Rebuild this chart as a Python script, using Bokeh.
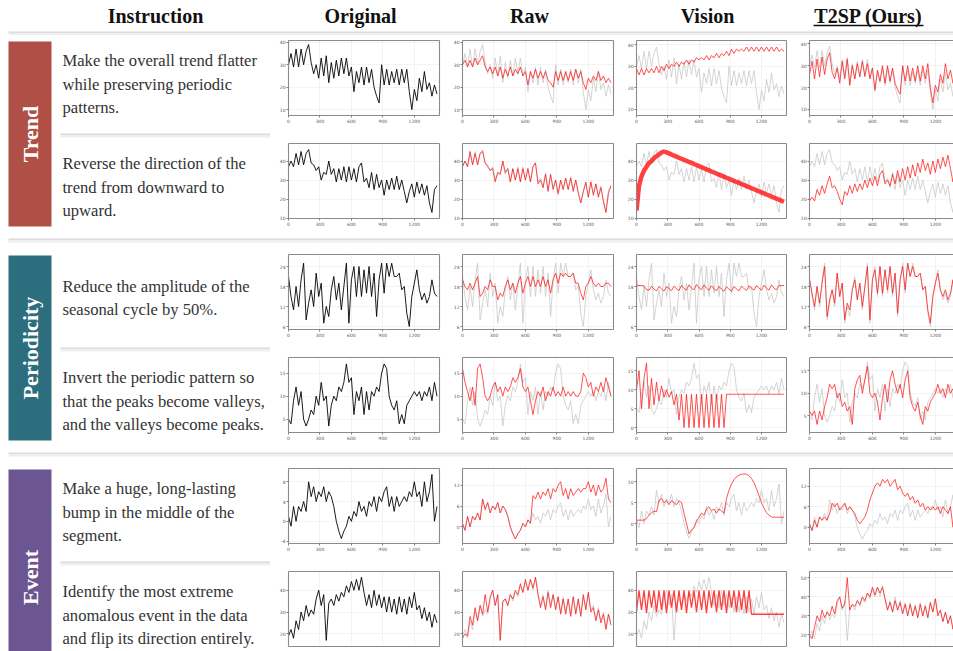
import numpy as np
from bokeh.plotting import figure
from bokeh.layouts import column, row
from bokeh.models import Range1d, FixedTicker, LinearAxis, Grid, NumeralTickFormatter
from bokeh.embed import file_html
from bokeh.resources import INLINE
from bokeh.core.properties import value

# ---------------- data ----------------
T = list(range(0, 1440, 24))          # time step of each sample
X_TICKS = [0, 300, 600, 900, 1200]

HEADERS = ["Instruction", "Original", "Raw", "Vision", "T2SP (Ours)"]
CATEGORIES = ["Trend", "Periodicity", "Event"]
CAT_COLORS = ["#AF4F45", "#2D6E7E", "#6B5692"]
INSTRUCTIONS = [
    ["Make the overall trend flatter", "while preserving periodic", "patterns."],
    ["Reverse the direction of the", "trend from downward to", "upward."],
    ["Reduce the amplitude of the", "seasonal cycle by 50%."],
    ["Invert the periodic pattern so", "that the peaks become valleys,", "and the valleys become peaks."],
    ["Make a huge, long-lasting", "bump in the middle of the", "segment."],
    ["Identify the most extreme", "anomalous event in the data", "and flip its direction entirely."],
]

# row 1: flatten trend
orig_1 = [30, 35, 29, 37, 29, 37, 30, 36, 39, 31,
          26, 30, 24, 33, 25, 34, 22, 31, 24, 32,
          25, 33, 26, 33, 25, 29, 18, 27, 22, 29,
          21, 29, 22, 28, 20, 16, 13, 30, 21, 28,
          21, 27, 22, 28, 21, 28, 22, 28, 18, 10,
          19, 14, 24, 18, 27, 19, 22, 16, 21, 17]
raw_1 = [30, 32, 29, 32, 29, 33, 30, 32, 34, 29,
         27, 29, 26, 29, 25, 29, 24, 28, 25, 29,
         25, 28, 26, 29, 25, 27, 21, 27, 24, 28,
         24, 27, 24, 27, 23, 22, 20, 27, 23, 27,
         23, 27, 23, 27, 23, 28, 24, 27, 22, 19,
         24, 22, 25, 23, 27, 23, 25, 22, 24, 22]
vision_1 = [29, 26, 29, 26, 29, 27, 29, 27, 30, 27,
            30, 28, 31, 29, 31, 30, 32, 30, 32, 31,
            33, 31, 33, 32, 34, 33, 34, 33, 35, 33,
            35, 34, 36, 34, 36, 35, 37, 35, 38, 36,
            38, 37, 38, 37, 39, 37, 39, 37, 39, 37,
            39, 37, 39, 37, 39, 37, 39, 37, 38, 37]
t2sp_1 = [26, 32, 24, 33, 25, 34, 26, 33, 36, 27,
          24, 29, 22, 32, 24, 33, 21, 30, 24, 31,
          25, 32, 25, 31, 24, 29, 19, 28, 23, 30,
          22, 30, 23, 29, 22, 19, 17, 30, 23, 30,
          23, 29, 23, 30, 23, 30, 24, 31, 20, 13,
          21, 18, 26, 22, 31, 24, 28, 22, 26, 22]

# row 2: reverse trend
orig_2 = [37, 40, 37, 44, 38, 45, 38, 44, 46, 39,
          38, 35, 37, 30, 34, 33, 40, 33, 36, 29,
          36, 30, 37, 29, 37, 30, 36, 29, 37, 39,
          29, 31, 26, 34, 25, 33, 26, 30, 22, 30,
          25, 31, 25, 32, 25, 30, 24, 18, 24, 28,
          21, 29, 23, 28, 22, 27, 18, 13, 25, 27]
raw_2 = [37, 40, 37, 45, 38, 44, 38, 44, 45, 39,
         37, 35, 36, 29, 34, 33, 40, 34, 36, 29,
         36, 30, 36, 29, 36, 30, 36, 29, 37, 39,
         28, 30, 26, 33, 24, 33, 25, 30, 23, 30,
         25, 31, 25, 31, 24, 30, 23, 18, 24, 29,
         21, 29, 22, 28, 21, 26, 19, 13, 23, 27]
vision_2 = [14, 27, 32, 35, 37, 39, 40, 41.5, 42.5, 43.5,
            44.5, 45, 44.5, 44.0, 43.4, 42.8, 42.3, 41.7, 41.2, 40.6,
            40.1, 39.5, 39.0, 38.4, 37.9, 37.3, 36.8, 36.2, 35.6, 35.1,
            34.5, 34.0, 33.4, 32.9, 32.3, 31.8, 31.2, 30.7, 30.1, 29.6,
            29.0, 28.5, 27.9, 27.4, 26.8, 26.3, 25.7, 25.2, 24.6, 24.1,
            23.5, 23.0, 22.4, 21.9, 21.3, 20.8, 20.2, 19.7, 19.1, 18.6]
t2sp_2 = [19, 21, 19, 25, 22, 27, 23, 28, 32, 26,
          27, 24, 20, 17, 24, 22, 27, 23, 28, 24,
          28, 25, 30, 26, 31, 27, 32, 27, 33, 35,
          28, 30, 27, 33, 28, 35, 29, 36, 30, 37,
          31, 38, 32, 39, 34, 41, 35, 39, 33, 40,
          34, 41, 36, 42, 37, 43, 36, 29, 38, 40]

# row 3: reduce seasonal amplitude
orig_3 = [21, 15, 11, 18, 12, 20, 25, 8, 13, 17,
          12, 22, 15, 19, 7, 12, 9, 17, 21, 14,
          19, 11, 18, 25, 7, 20, 24, 15, 24, 15,
          23, 16, 24, 15, 22, 9, 20, 25, 16, 25,
          21, 25, 21, 21, 22, 17, 18, 10, 6, 15,
          19, 23, 17, 14, 16, 13, 15, 20, 16, 15]
raw_3 = [20, 18, 17, 19, 17, 19, 21, 15, 16, 18,
         17, 20, 18, 18, 14, 16, 15, 18, 20, 17,
         19, 16, 19, 21, 16, 19, 21, 18, 21, 18,
         20, 18, 21, 18, 20, 16, 20, 22, 19, 22,
         21, 22, 21, 21, 22, 19, 19, 16, 14, 18,
         19, 21, 19, 18, 19, 18, 18, 19, 19, 18]
vision_3 = [18.3, 18.3, 18.3, 18.2, 17.0, 16.9, 18.1, 17.2, 16.7, 18.0,
            17.3, 16.6, 17.9, 17.4, 16.7, 18.1, 17.3, 16.8, 18.3, 17.4,
            16.9, 18.5, 17.5, 17.0, 18.6, 17.6, 17.0, 18.5, 17.5, 16.9,
            18.2, 17.3, 16.7, 18.0, 17.2, 16.6, 17.9, 17.2, 16.6, 18.0,
            17.3, 16.7, 18.1, 17.4, 16.8, 18.2, 17.5, 16.9, 18.3, 17.5,
            16.9, 18.4, 17.5, 16.9, 18.5, 17.5, 17.0, 18.3, 18.3, 18.3]
t2sp_3 = [20, 16, 12, 18, 13, 19, 24, 9, 14, 17,
          13, 22, 15, 19, 8, 13, 11, 17, 20, 14,
          19, 12, 18, 24, 8, 20, 23, 16, 24, 16,
          23, 17, 24, 16, 22, 10, 20, 24, 17, 25,
          21, 24, 21, 21, 22, 17, 18, 11, 7, 15,
          19, 22, 17, 15, 17, 14, 16, 20, 16, 17]

# row 4: invert periodic pattern
orig_4 = [5, 4, 9, 12, 8, 11, 5, 3.5, 5, 7,
          6, 10, 8, 13, 9, 10, 3.5, 8, 10, 9,
          12, 11, 13, 17, 13, 14, 6, 11, 9, 12,
          6, 11, 7, 11, 10, 12, 11, 15, 17, 16,
          10, 8, 7, 9, 4, 6, 4, 8, 9, 10,
          11, 10, 11, 9, 11, 10, 12, 9, 13, 10]
raw_4 = [16, 13, 11, 9, 12, 8, 16, 17, 14, 10,
         9, 10, 12, 13, 11, 12, 10, 12, 11, 12,
         14, 13, 14, 16, 12, 11, 12, 9, 6, 9,
         11, 10, 12, 9, 11, 10, 12, 10, 11, 10,
         12, 10, 11, 10, 11, 10, 10, 11, 15, 14,
         12, 13, 10, 12, 11, 13, 11, 14, 12, 10]
vision_4 = [10, 15, 5, 13, 17, 5, 13, 6, 12, 7,
            11, 8, 10, 8, 9.5, 6, 8.8, 2, 8.8, 0,
            8.8, 0, 8.8, 0, 8.8, 0, 8.8, 0, 8.8, 0,
            8.8, 0, 8.8, 0, 8.8, 0, 8.8, 8.8, 8.8, 8.8,
            8.8, 8.8, 8.8, 8.8, 8.8, 8.8, 8.8, 8.8, 8.8, 8.8,
            8.8, 8.8, 8.8, 8.8, 8.8, 8.8, 8.8, 8.8, 8.8, 8.8]
t2sp_4 = [6, 5, 6, 3, 6, 4, 7, 9, 12, 11,
          12, 9, 10, 7, 8, 6, 7, 3, 11, 13,
          14, 10, 13, 16, 10, 9, 10, 8, 4, 9,
          12, 8, 13, 15, 12, 10, 12, 9, 13, 15,
          9, 7, 6, 8, 5, 3, 7, 6, 8, 9,
          10, 12, 10, 11, 9, 12, 10, 11, 9, 11]

# row 5: long-lasting bump
orig_5 = [1, -1, 3, 0, 3, 2, 4, 2, 8, 5,
          7, 4, 6, 5, 7, 4, 6, 5, 3, 0,
          -2, -3.5, -2, -1, 1, 0, 2, 1, 4, 2,
          3, 1, 4, 3, 5, 2, 5, 4, 6, 7,
          3, 5, 2, 5, 3, 4, 5, 4, 6, 5,
          8, 5, 6, 3, 8, 4, 6, 9.5, 0, 3]
raw_5 = [1, -1, 3, 0, 3, 2, 4, 2, 8, 5,
         7, 4, 6, 5, 7, 4, 6, 5, 3, 0,
         -2, -3.5, -2, -1, 1, 0, 2, 1, 9, 8,
         10, 8, 10, 9, 11, 8, 11, 10, 12, 13,
         9, 11, 8, 11, 9, 10, 11, 10, 11, 11,
         13, 10, 12, 9, 12, 10, 11, 14, 8, 7]
vision_5 = [0.8, 0.8, 0.8, 0.8, 1.2, 2, 2.5, 3, 2.8, 5.5,
            6, 5, 5.5, 4.5, 5.5, 5, 4.5, 5.5, 5, 2.5,
            0, -2.5, -1.5, -1, 0.5, 1.5, 2.5, 2, 3.5, 4,
            3, 3.5, 2.5, 3.5, 3, 2.5, 6, 8, 9.5, 10.5,
            11.2, 11.6, 11.8, 11.9, 11.8, 11.5, 10.8, 9.8, 8.3, 6.7,
            5, 3.7, 2.6, 2, 1.6, 1.5, 1.5, 1.5, 1.5, 1.5]
t2sp_5 = [1, -1, 2, 0, 3, 2, 3, 2, 4, 7,
          6, 7, 5, 6, 7, 5, 6, 5, 4, 2,
          1, 2, 3, 5, 8, 10, 12, 13, 12, 14,
          13, 14, 12, 13, 14, 11, 12, 10, 9, 10,
          8, 9, 7, 8, 6, 7, 5, 6, 5, 6,
          5, 6, 4, 6, 5, 4, 6, 0, 4, 8]

# row 6: flip most extreme anomaly
orig_6 = [19, 22, 18, 26, 22, 30, 26, 33, 28, 31,
          29, 36, 40, 33, 38, 17, 34, 36, 33, 38,
          35, 39, 37, 42, 39, 44, 40, 45, 40, 46,
          39, 33, 38, 32, 40, 33, 38, 32, 37, 30,
          37, 30, 36, 29, 37, 30, 36, 29, 37, 32,
          39, 31, 33, 27, 32, 26, 30, 23, 29, 25]
raw_6 = [18, 20, 19, 28, 24, 32, 26, 33, 29, 38,
         30, 37, 40, 33, 38, 17, 35, 36, 33, 38,
         36, 40, 38, 43, 39, 45, 40, 45, 41, 46,
         38, 32, 37, 31, 39, 32, 38, 31, 37, 29,
         36, 29, 36, 28, 37, 29, 36, 28, 38, 31,
         39, 30, 32, 26, 31, 25, 29, 22, 29, 24]
vision_6 = [30, 40, 31, 40, 29.5, 40, 32, 40, 30, 40,
            31, 40, 29.5, 40, 32, 40, 30, 40, 31, 40,
            29.5, 40, 32, 40, 30, 40, 31, 40, 29.5, 40,
            32, 40, 30, 40, 31, 40, 29.5, 40, 32, 40,
            30, 40, 31, 40, 29.5, 40, 29, 29, 29, 29,
            29, 29, 29, 29, 29, 29, 29, 29, 29, 29]
t2sp_6 = [20, 18, 24, 30, 27, 33, 29, 32, 30, 35,
          31, 38, 40, 34, 36, 50, 33, 36, 35, 38,
          36, 40, 38, 42, 40, 45, 41, 45, 42, 45,
          39, 33, 37, 32, 38, 33, 37, 31, 36, 30,
          36, 30, 35, 29, 36, 30, 35, 29, 37, 32,
          39, 30, 33, 27, 32, 26, 30, 23, 29, 25]

ORIGINALS = [orig_1, orig_2, orig_3, orig_4, orig_5, orig_6]
EDITS = [
    [raw_1, raw_2, raw_3, raw_4, raw_5, raw_6],
    [vision_1, vision_2, vision_3, vision_4, vision_5, vision_6],
    [t2sp_1, t2sp_2, t2sp_3, t2sp_4, t2sp_5, t2sp_6],
]

Y_RANGES = [
    [(7.4, 40.8), (7.4, 40.8), (7.2, 42.0), (7.2, 41.6)],
    [(9.8, 49.2), (9.8, 49.2), (9.8, 49.2), (9.8, 49.2)],
    [(5.1, 27.6), (5.1, 27.6), (5.1, 27.6), (5.1, 27.6)],
    [(2.1, 18.4), (2.1, 18.4), (-1.3, 18.5), (1.2, 18.0)],
    [(-4.5, 10.7), (-4.8, 16.8), (-4.8, 13.2), (-4.8, 17.2)],
    [(14.2, 48.6), (14.2, 48.6), (14.2, 48.6), (13.9, 53.3)],
]
Y_TICKS = [
    [[10, 20, 30, 40]] * 4,
    [[10, 20, 30, 40]] * 4,
    [[6, 12, 18, 24]] * 4,
    [[5, 10, 15], [5, 10, 15], [0, 5, 10, 15], [5, 10, 15]],
    [[-4, 0, 4, 8], [0, 6, 12], [0, 5, 10], [0, 6, 12]],
    [[20, 30, 40], [20, 30, 40], [20, 30, 40], [20, 30, 40, 50]],
]

# ---------------- layout / style ----------------
PAGE_W = 953
LEFT_W = 270
COL_W = [180, 173, 174, 156]
COL_LB = [18, 11, 13, 12]
COL_RB = [11, 10, 11, 0]
X_END = [1440, 1440, 1440, 1373]
FRAME_H = 75
SERIF = "Liberation Serif"
FRAME = "#8a8a8a"
GRID = "#ebebeb"
HEADER_X = [155, 360, 529, 707, 868]


def canvas(w, h):
    f = figure(width=w, height=h, x_range=Range1d(0, w), y_range=Range1d(h, 0),
               x_axis_location=None, y_axis_location=None, output_backend="svg",
               toolbar_location=None, min_border=0)
    f.xgrid.visible = False
    f.ygrid.visible = False
    f.outline_line_color = None
    f.background_fill_color = "white"
    f.border_fill_color = "white"
    return f


def shadow(f, x0, x1, y):
    f.quad(left=[x0], right=[x1], top=[y], bottom=[y + 1.6],
           fill_color="#dcdcdc", line_color=None)
    f.quad(left=[x0], right=[x1], top=[y + 1.6], bottom=[y + 4],
           fill_color="#efefef", line_color=None)


def add_axis(p, place, ticks, labels):
    ax = LinearAxis(ticker=FixedTicker(ticks=ticks))
    ax.formatter = NumeralTickFormatter(format="0")
    ax.axis_line_color = FRAME
    ax.axis_line_width = 1.1
    ax.minor_tick_line_color = None
    if labels:
        ax.major_tick_line_color = "#808080"
        ax.major_tick_in = 0
        ax.major_tick_out = 2
        ax.major_label_text_font = "DejaVu Sans"
        ax.major_label_text_font_size = "4.5px"
        ax.major_label_text_color = "#555555"
        ax.major_label_standoff = 1
    else:
        ax.major_tick_line_color = None
        ax.major_tick_out = 0
        ax.major_tick_in = 0
        ax.major_label_text_font_size = "0px"
        ax.major_label_standoff = 0
    p.add_layout(ax, place)


def make_chart(r, c, first_in_group, last_row):
    w = COL_W[c]
    tb = 5
    if last_row:
        bb = 5
    else:
        bb = 18 if first_in_group else 15
    h = tb + FRAME_H + bb
    y0, y1 = Y_RANGES[r][c]
    p = figure(width=w, height=h, x_range=Range1d(0, X_END[c]), y_range=Range1d(y0, y1),
               x_axis_location=None, y_axis_location=None, output_backend="svg",
               toolbar_location=None, min_border_left=COL_LB[c], min_border_right=COL_RB[c],
               min_border_top=tb, min_border_bottom=bb)
    p.xgrid.visible = False
    p.ygrid.visible = False
    p.outline_line_color = None
    p.background_fill_color = "white"
    p.border_fill_color = "white"
    yt = Y_TICKS[r][c]
    p.add_layout(Grid(dimension=0, ticker=FixedTicker(ticks=X_TICKS),
                      grid_line_color=GRID, grid_line_width=0.6))
    p.add_layout(Grid(dimension=1, ticker=FixedTicker(ticks=yt),
                      grid_line_color=GRID, grid_line_width=0.6))
    add_axis(p, "left", yt, True)
    add_axis(p, "below", [] if last_row else X_TICKS, not last_row)
    add_axis(p, "above", [], False)
    if c < 3:
        add_axis(p, "right", [], False)

    if c == 0:
        p.line(T, ORIGINALS[r], line_color="black", line_width=0.9)
    else:
        p.line(T, ORIGINALS[r], line_color="#c6c6c6", line_width=0.9, line_alpha=0.85)
        lw = 0.9
        if c == 2 and r == 1:
            lw = 4.5
        elif c == 2 and r == 5:
            lw = 1.3
        p.line(T, EDITS[c - 1][r], line_color="#ff1010", line_width=lw, line_alpha=0.8)
    return p


# header
header = canvas(PAGE_W, 35)
header.text(x=HEADER_X, y=[15] * 5, text=HEADERS,
            text_font=value(SERIF), text_font_style="bold", text_font_size="20px",
            text_align="center", text_baseline="middle", text_color="#111111")
header.segment(x0=[HEADER_X[4] - 55], y0=[25], x1=[HEADER_X[4] + 55], y1=[25],
               line_color="#111111", line_width=1.3)
shadow(header, 8, PAGE_W, 31)

blocks = [header]
for g in range(3):
    last = (g == 2)
    rA, rB = 2 * g, 2 * g + 1
    hB = 85 if last else 95
    left_h = 98 + 5 + hB
    left = canvas(LEFT_W, left_h)
    box_bottom = left_h if last else 191
    left.quad(left=[8], right=[51], top=[6], bottom=[box_bottom],
              fill_color=CAT_COLORS[g], line_color=None)
    cy = 114 if last else 98.5
    left.text(x=[29.5], y=[cy], text=[CATEGORIES[g]], angle=np.pi / 2,
              text_font=value(SERIF), text_font_style="bold", text_font_size="22px",
              text_align="center", text_baseline="middle", text_color="white")
    for ri, mid in ((rA, 48.5), (rB, 151.5)):
        lines = INSTRUCTIONS[ri]
        n = len(lines)
        ys = [mid + (k - (n - 1) / 2) * 23.5 for k in range(n)]
        left.text(x=[62] * n, y=ys, text=lines, text_font=value(SERIF),
                  text_font_size="16.6px", text_align="left", text_baseline="middle",
                  text_color="#333333")
    shadow(left, 60, LEFT_W, 98)

    rowA = row(*[make_chart(rA, c, True, False) for c in range(4)])
    sep = canvas(sum(COL_W), 5)
    shadow(sep, 0, sum(COL_W), 0)
    rowB = row(*[make_chart(rB, c, False, last) for c in range(4)])
    blocks.append(row(left, column(rowA, sep, rowB)))
    if not last:
        gs = canvas(PAGE_W, 16)
        shadow(gs, 8, PAGE_W, 5)
        blocks.append(gs)

layout = column(*blocks)
open("out.html", "w").write(file_html(layout, INLINE))
